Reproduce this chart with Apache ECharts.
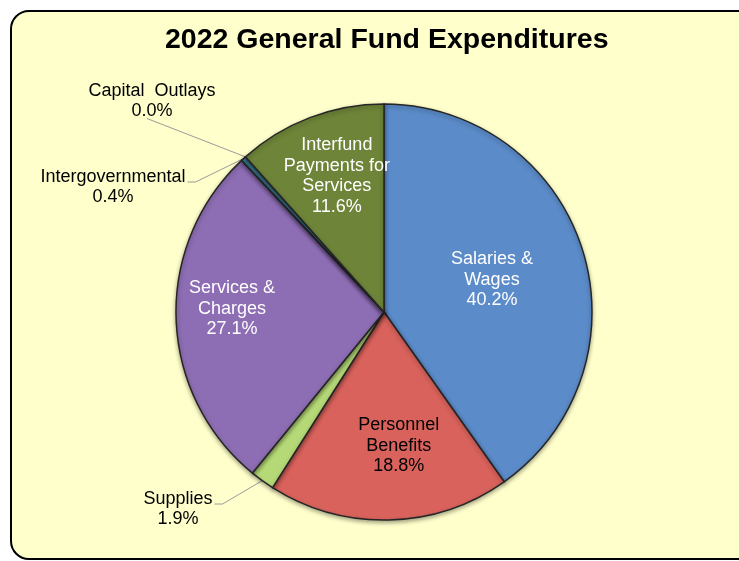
<!DOCTYPE html>
<html><head><meta charset="utf-8">
<script src="https://cdn.jsdelivr.net/npm/echarts@6/dist/echarts.min.js"></script>
<style>html,body{margin:0;padding:0;background:#fff}#c{width:739px;height:561px}</style>
</head><body><div id="c"></div>
<script>
const title = '2022 General Fund Expenditures';
const categories = ['Salaries &\nWages', 'Personnel\nBenefits', 'Supplies', 'Services &\nCharges', 'Intergovernmental', 'Capital  Outlays', 'Interfund\nPayments for\nServices'];
const values = [40.2, 18.8, 1.9, 27.1, 0.4, 0.0, 11.6];
const colors = ['#5B8BC9', '#D9625C', '#B6D977', '#8D6DB3', '#3E8BA3', '#C0504D', '#6E8438'];
const labelColors = ['#fff', '#000', '#000', '#fff', '#000', '#000', '#fff'];
const outsideIdx = [2, 4, 5];

// label placement (styling)
const insideShift = {0: [6, 0], 1: [12, 27], 3: [-45, -7], 6: [-9, -36]};
const outsidePos = {2: [178, 509, 'right'], 4: [113, 187, 'right'], 5: [152, 101, 'bottom']};

const FONT = '"Liberation Sans", Arial, sans-serif';
const chart = echarts.init(document.getElementById('c'), null, {renderer: 'canvas'});

const data = categories.map((name, i) => ({
  name: name,
  value: values[i],
  itemStyle: {color: colors[i]},
  label: {
    position: outsideIdx.includes(i) ? 'outside' : 'inside',
    color: labelColors[i]
  },
  labelLine: {show: outsideIdx.includes(i)}
}));

chart.setOption({
  animation: false,
  graphic: [{
    type: 'rect', z: -10,
    shape: {x: 11, y: 11, width: 800, height: 548, r: 18},
    style: {fill: '#FFFFCC', stroke: '#000', lineWidth: 2}
  }],
  title: {
    text: title, left: 165, top: 26, padding: 0,
    textStyle: {fontFamily: FONT, fontSize: 28.5, fontWeight: 'bold', color: '#000'}
  },
  series: [{
    type: 'pie',
    center: [384, 312],
    radius: 208,
    startAngle: 90,
    clockwise: true,
    avoidLabelOverlap: false,
    minShowLabelAngle: 0,
    itemStyle: {borderColor: '#262626', borderWidth: 1.5, shadowColor: 'rgba(0,0,0,0.35)', shadowBlur: 4, shadowOffsetY: 2},
    label: {
      fontFamily: FONT, fontSize: 18, lineHeight: 20.5,
      formatter: p => p.name + '\n' + p.value.toFixed(1) + '%'
    },
    labelLine: {length: 10, length2: 10, lineStyle: {color: '#9a9a9a', width: 1}},
    labelLayout: function (p) {
      const i = p.dataIndex;
      const r = p.labelRect;
      if (insideShift[i]) {
        const s = insideShift[i];
        return {x: r.x + r.width / 2 + s[0], y: r.y + r.height / 2 + s[1]};
      }
      if (outsidePos[i]) {
        const o = outsidePos[i];
        const x = o[0], y = o[1];
        const p0 = p.labelLinePoints ? p.labelLinePoints[0] : [x, y];
        let pts;
        if (o[2] === 'bottom') {
          pts = [p0, [x - 5, y + r.height / 2 - 3]];
        } else {
          const right = x + r.width / 2;
          pts = [p0, [right + 10, y - 5], [right + 2, y - 5]];
        }
        return {x: x, y: y, align: 'center', verticalAlign: 'middle', labelLinePoints: pts};
      }
    },
    data: data
  }]
});
</script></body></html>
